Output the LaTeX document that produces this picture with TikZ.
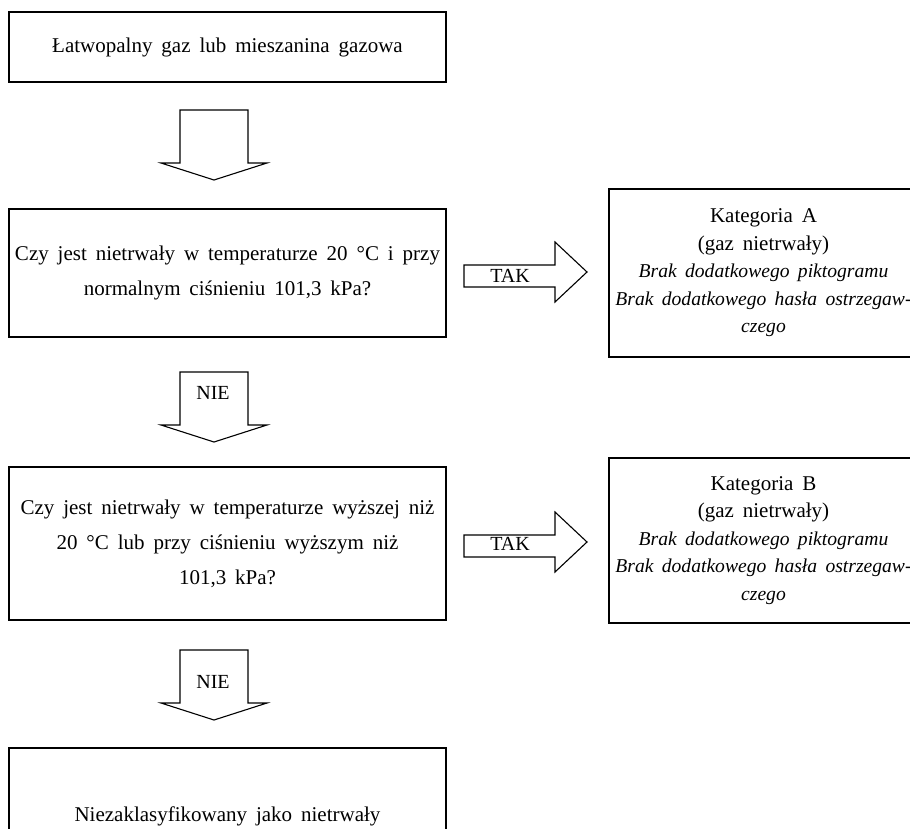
\documentclass[tikz,border=0pt]{standalone}
\usepackage{fontspec}
\setmainfont{Liberation Serif}[WordSpace=1.7]
\begin{document}
\begin{tikzpicture}[x=1pt,y=-1pt,
  box/.style={draw, line width=1.1pt, inner sep=0pt, align=center,
    font=\fontsize{21}{35}\selectfont},
  catbox/.style={box, font=\fontsize{21}{27.5}\selectfont},
  arr/.style={draw, line width=1.1pt, line join=miter},
  lab/.style={font=\fontsize{20}{24}\selectfont, inner sep=0pt},
  downarr/.pic={\draw[arr] (-34,0) -- (34,0) -- (34,53) -- (53,53) -- (0,70) -- (-53,53) -- (-34,53) -- cycle;},
  rightarr/.pic={\draw[arr] (0,-11) -- (91,-11) -- (91,-34) -- (123,-4) -- (91,26) -- (91,11) -- (0,11) -- cycle;}
]
\newcommand{\itl}[1]{{\fontsize{19.6}{27.5}\itshape #1}}
\useasboundingbox (0,0) rectangle (910,828);
\clip (0,0) rectangle (910,828);

\node[box, minimum width=437pt, minimum height=70pt] (b1) at (227.5,47) {Łatwopalny gaz lub mieszanina gazowa};
\node[box, minimum width=437pt, minimum height=128pt] (b2) at (227.5,273) {Czy jest nietrwały w temperaturze 20 °C i przy\\normalnym ciśnieniu 101,3 kPa?};
\node[box, minimum width=437pt, minimum height=153pt] (b3) at (227.5,543.5) {Czy jest nietrwały w temperaturze wyższej niż\\20 °C lub przy ciśnieniu wyższym niż\\101,3 kPa?};
\node[box, minimum width=437pt, minimum height=136pt] (b4) at (227.5,816) {Niezaklasyfikowany jako nietrwały};

\node[catbox, minimum width=309pt, minimum height=168pt] (ka) at (763.5,273) {Kategoria A\\(gaz nietrwały)\\\itl{Brak dodatkowego piktogramu}\\\itl{Brak dodatkowego hasła ostrzegaw-}\\\itl{czego}};
\node[catbox, minimum width=309pt, minimum height=165pt] (kb) at (763.5,540.5) {Kategoria B\\(gaz nietrwały)\\\itl{Brak dodatkowego piktogramu}\\\itl{Brak dodatkowego hasła ostrzegaw-}\\\itl{czego}};

\pic at (214,110) {downarr};
\pic at (214,372) {downarr};
\pic at (214,650) {downarr};
\pic at (464,276) {rightarr};
\pic at (464,546) {rightarr};

\node[lab] (nie1) at (213,393) {NIE};
\node[lab] (nie2) at (213,682) {NIE};
\node[lab] (taka) at (510,276) {TAK};
\node[lab] (takb) at (510,544) {TAK};
\end{tikzpicture}
\end{document}
